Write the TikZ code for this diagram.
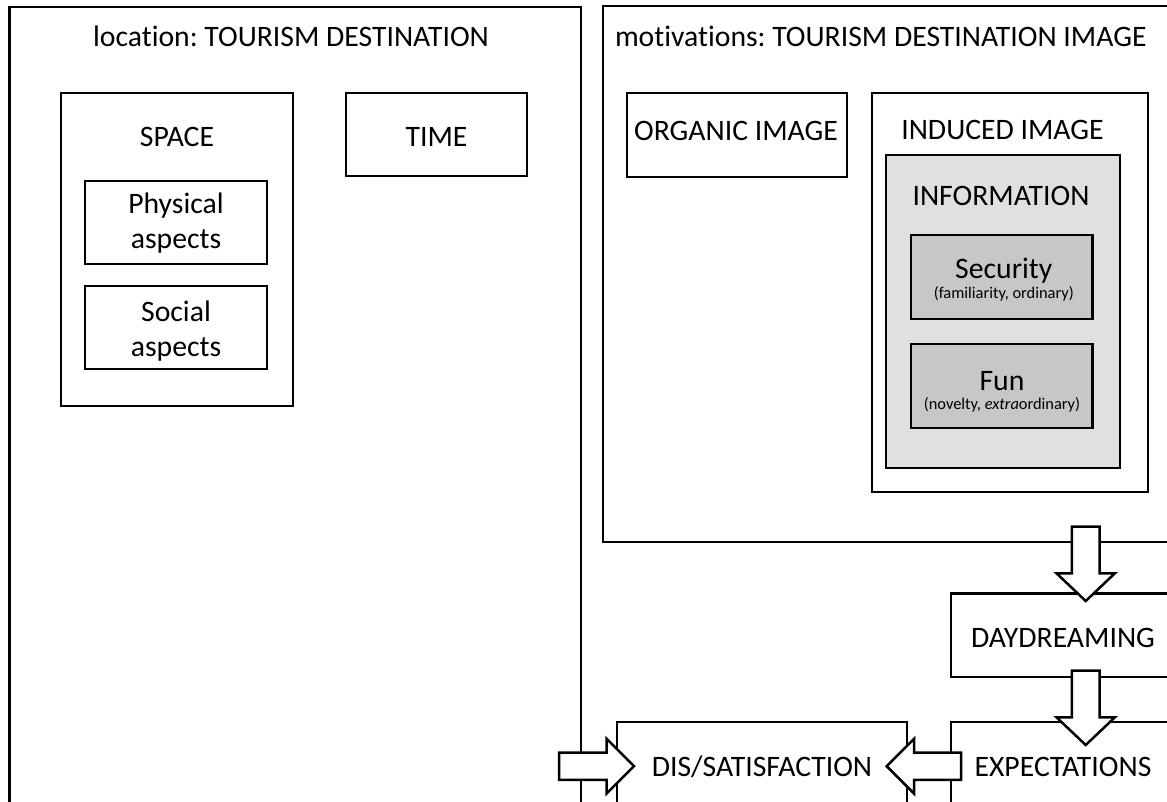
\documentclass[tikz,border=0pt]{standalone}
\usepackage{fontspec}
\setmainfont{Carlito}[Ligatures={NoCommon}]
\usetikzlibrary{calc}
\frenchspacing

\newcommand\mainlabelfont{\fontsize{29.7}{34.5}\selectfont}
\newcommand\minorlabelfont{\fontsize{16.4}{19}\selectfont}

\tikzset{
  box/.style={draw, line width=2.5pt, rectangle, inner sep=0pt, outer sep=0pt, anchor=north west},
  lightbox/.style={box, fill=black!12},
  darkbox/.style={box, fill=black!22},
  lbl/.style={inner sep=0pt, outer sep=0pt, anchor=base, font=\mainlabelfont},
  sublbl/.style={inner sep=0pt, outer sep=0pt, anchor=base, font=\minorlabelfont},
  arrowbody/.style={draw, fill=white, line width=2.5pt, line join=miter, miter limit=10},
}

% block arrows: #1 = tail centre, #2 = tip
\newcommand\arrowdown[2]{%
  \draw[arrowbody] ($(#1)+(-13.8,0)$) -- ($(#2)+(-13.8,-27.7)$) -- ($(#2)+(-29.2,-27.7)$)
    -- (#2) -- ($(#2)+(29.2,-27.7)$) -- ($(#2)+(13.8,-27.7)$) -- ($(#1)+(13.8,0)$) -- cycle;}
\newcommand\arrowright[2]{%
  \draw[arrowbody] ($(#1)+(0,-13.7)$) -- ($(#2)+(-27.5,-13.7)$) -- ($(#2)+(-27.5,-27.5)$)
    -- (#2) -- ($(#2)+(-27.5,27.5)$) -- ($(#2)+(-27.5,13.7)$) -- ($(#1)+(0,13.7)$) -- cycle;}
\newcommand\arrowleft[2]{%
  \draw[arrowbody] ($(#1)+(0,-13.7)$) -- ($(#2)+(27.5,-13.7)$) -- ($(#2)+(27.5,-27.5)$)
    -- (#2) -- ($(#2)+(27.5,27.5)$) -- ($(#2)+(27.5,13.7)$) -- ($(#1)+(0,13.7)$) -- cycle;}

\begin{document}
\begin{tikzpicture}[x=1pt, y=-1pt]
  \fill[white] (0,0) rectangle (1167,802);
  \useasboundingbox (0,0) rectangle (1167,802);
  \clip (0,0) rectangle (1167,802);

  % location panel
  \node[box, minimum width=571.5pt, minimum height=833pt] (loc) at (9.5,7) {};
  \node[box, minimum width=232pt, minimum height=313pt] (space) at (61,93) {};
  \node[box, minimum width=182pt, minimum height=83pt] (phys) at (85,181) {};
  \node[box, minimum width=182pt, minimum height=83pt] (soc) at (85,286) {};
  \node[box, minimum width=181pt, minimum height=83pt] (time) at (346,93) {};

  % motivations panel
  \node[box, minimum width=577pt, minimum height=536pt] (mot) at (603,6) {};
  \node[box, minimum width=220pt, minimum height=84pt] (org) at (627,93) {};
  \node[box, minimum width=276pt, minimum height=399pt] (ind) at (872,93) {};
  \node[lightbox, minimum width=234pt, minimum height=313pt] (info) at (886,155) {};
  \node[darkbox, minimum width=181.5pt, minimum height=84pt] (sec) at (911,235) {};
  \node[darkbox, minimum width=181.5pt, minimum height=84pt] (fun) at (911,344) {};

  % process chain
  \node[box, minimum width=224pt, minimum height=83.7pt] (day) at (951,593.3) {};
  \node[box, minimum width=224pt, minimum height=118pt] (exp) at (951,722) {};
  \node[box, minimum width=290pt, minimum height=118pt] (dis) at (617,722) {};

  % arrow ends
  \coordinate (motout) at (1085.7,526.7);
  \coordinate (dayin)  at (1085.7,601);
  \coordinate (dayout) at (1085.7,670.7);
  \coordinate (expin)  at (1085.7,745);
  \coordinate (locout) at (559,766.2);
  \coordinate (disinl) at (634,766.2);
  \coordinate (expout) at (961,766.2);
  \coordinate (disinr) at (886.7,766.2);

  \arrowdown{motout}{dayin}
  \arrowdown{dayout}{expin}
  \arrowright{locout}{disinl}
  \arrowleft{expout}{disinr}

  % labels (multi-line labels sit on the baseline of their last line)
  \node[lbl] (loct) at (291,47) {location: TOURISM DESTINATION};
  \node[lbl, anchor=base west] (mott) at (615,47) {motivations: TOURISM DESTINATION IMAGE};
  \node[lbl] (spacet) at (177,147) {SPACE};
  \node[lbl, align=center] (physt) at (176,248.5) {Physical\\aspects};
  \node[lbl, align=center] (soct) at (176,356) {Social\\aspects};
  \node[lbl] (timet) at (436.5,147) {TIME};
  \node[lbl] (orgt) at (736,141) {ORGANIC IMAGE};
  \node[lbl] (indt) at (1002.5,140) {INDUCED IMAGE};
  \node[lbl] (infot) at (1001,205.5) {INFORMATION};
  \node[lbl] (sect) at (1003.8,279) {Security};
  \node[sublbl] (secs) at (1003.8,298.5) {(familiarity, ordinary)};
  \node[lbl] (funt) at (1002,390) {Fun};
  \node[sublbl] (funs) at (1002,409.5) {(novelty, \textit{extra}ordinary)};
  \node[lbl] (dayt) at (1063,647.5) {DAYDREAMING};
  \node[lbl] (expt) at (1063,776) {EXPECTATIONS};
  \node[lbl] (dist) at (762,776) {DIS/SATISFACTION};
\end{tikzpicture}
\end{document}
